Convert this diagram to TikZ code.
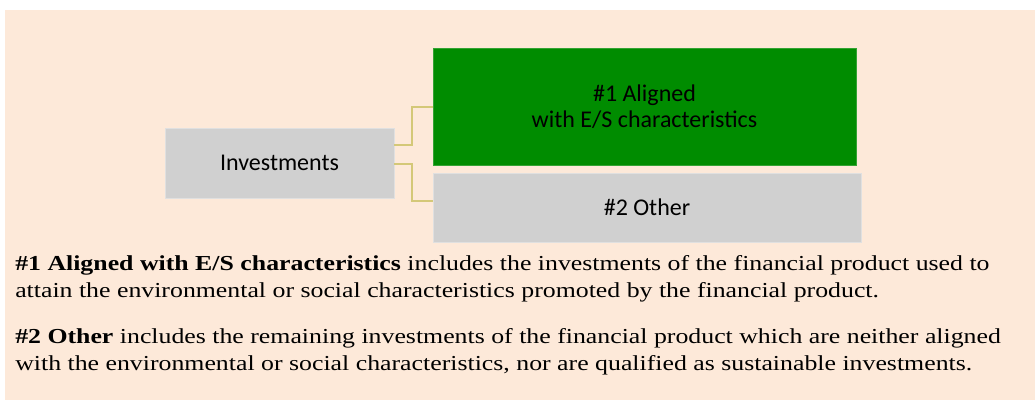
\documentclass[tikz,border=0pt]{standalone}
\usepackage{fontspec}
\setmainfont{Liberation Serif}[FakeStretch=1.21]
\newfontfamily\boxfont{Carlito}
\definecolor{peach}{RGB}{253,233,217}
\definecolor{boxgray}{RGB}{208,208,208}
\definecolor{boxgreen}{RGB}{0,140,0}
\definecolor{linkcol}{RGB}{212,200,120}
\tikzset{
  catbox/.style={draw=black!12, line width=0.6pt, inner sep=0pt, font=\boxfont\fontsize{18}{19.5}\selectfont, align=center, text=black},
  link/.style={draw=linkcol, line width=1.2pt},
  para/.style={anchor=base west, inner sep=0pt, font=\fontsize{16}{20}\selectfont}
}
\begin{document}
\begin{tikzpicture}[x=0.75pt,y=-0.75pt]
\useasboundingbox (0,0) rectangle (1035,400);
\fill[peach] (5,10) rectangle (1035,400);
\node[catbox, fill=boxgray, minimum width=229*0.75pt, minimum height=70*0.75pt] (inv) at (279.5,163) {Investments};
\node[catbox, fill=boxgreen, draw=boxgreen!80!white, minimum width=423*0.75pt, minimum height=117*0.75pt] (al) at (644.5,106.5) {\#1 Aligned\\with E/S characteristics};
\node[catbox, fill=boxgray, minimum width=428*0.75pt, minimum height=69*0.75pt] (ot) at (647,207.5) {\#2 Other};
\coordinate (a1) at (394,145);
\coordinate (a2) at (394,164);
\draw[link] (a1) -| (412,107) -- (433,107);
\draw[link] (a2) -| (412,201) -- (433,201);
\node[para] (p1a) at (15,270) {\textbf{\#1 Aligned with E/S characteristics} includes the investments of the financial product used to};
\node[para] (p1b) at (15,297.5) {attain the environmental or social characteristics promoted by the financial product.};
\node[para] (p2a) at (15,343) {\textbf{\#2 Other} includes the remaining investments of the financial product which are neither aligned};
\node[para] (p2b) at (15,370.5) {with the environmental or social characteristics, nor are qualified as sustainable investments.};
\end{tikzpicture}
\end{document}
